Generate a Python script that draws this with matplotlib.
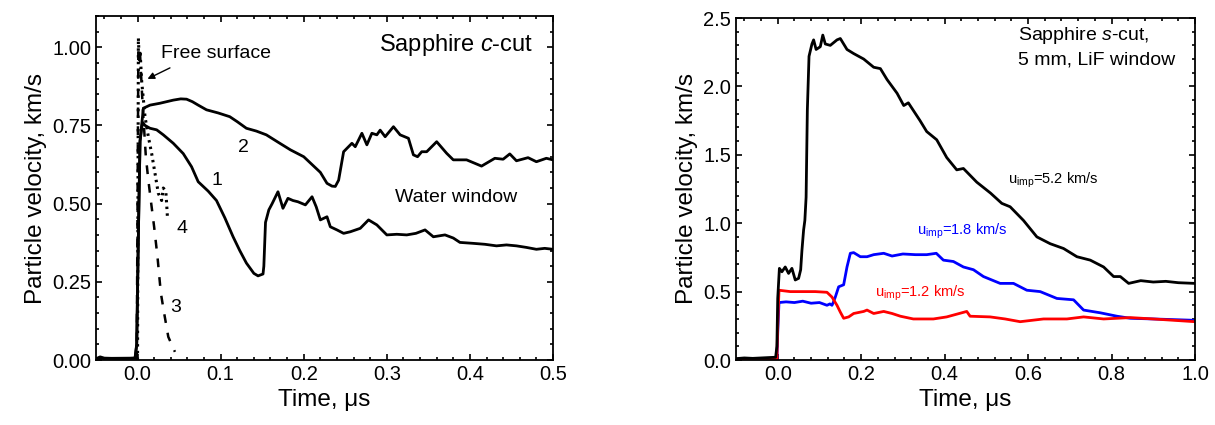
import matplotlib
matplotlib.use("Agg")
import matplotlib.pyplot as plt
from matplotlib.ticker import MultipleLocator

plt.rcParams['font.family'] = ['Liberation Sans', 'DejaVu Sans']
plt.rcParams['mathtext.fontset'] = 'custom'
plt.rcParams['mathtext.rm'] = 'Liberation Sans'
plt.rcParams['mathtext.it'] = 'Liberation Sans:italic'

# ---- left panel: sapphire c-cut, water window ----
t1 = [-0.05, -0.045, -0.04, -0.03, -0.02, -0.01, -0.003, -0.001, 0.001, 0.003, 0.006, 0.009,
      0.015, 0.023, 0.031, 0.043, 0.055, 0.065, 0.073, 0.085, 0.095, 0.105, 0.115, 0.123,
      0.131, 0.14, 0.145, 0.151, 0.152, 0.154, 0.158, 0.162, 0.169, 0.175, 0.181, 0.187,
      0.193, 0.202, 0.21, 0.215, 0.22, 0.228, 0.232, 0.24, 0.248, 0.256, 0.268, 0.278,
      0.288, 0.30, 0.312, 0.324, 0.335, 0.346, 0.356, 0.37, 0.38, 0.388, 0.404, 0.418,
      0.432, 0.444, 0.456, 0.468, 0.48, 0.49, 0.50]
v1 = [0.004, 0.01, 0.006, 0.005, 0.004, 0.005, 0.006, 0.05, 0.40, 0.70, 0.76, 0.75,
      0.741, 0.736, 0.72, 0.693, 0.66, 0.618, 0.57, 0.54, 0.51, 0.455, 0.394, 0.35,
      0.31, 0.277, 0.269, 0.275, 0.30, 0.44, 0.48, 0.50, 0.538, 0.485, 0.517, 0.51,
      0.506, 0.496, 0.522, 0.49, 0.448, 0.458, 0.426, 0.416, 0.405, 0.41, 0.421, 0.448,
      0.432, 0.40, 0.402, 0.40, 0.405, 0.416, 0.394, 0.40, 0.39, 0.376, 0.373, 0.37,
      0.365, 0.368, 0.365, 0.36, 0.354, 0.357, 0.354]

t2 = [-0.05, -0.003, -0.001, 0.001, 0.003, 0.007, 0.015, 0.027, 0.043, 0.052, 0.059, 0.066,
      0.073, 0.083, 0.097, 0.111, 0.12, 0.131, 0.143, 0.155, 0.17, 0.184, 0.20, 0.21,
      0.22, 0.228, 0.234, 0.238, 0.242, 0.248, 0.258, 0.262, 0.27, 0.276, 0.282, 0.288,
      0.292, 0.298, 0.308, 0.316, 0.326, 0.332, 0.337, 0.342, 0.348, 0.36, 0.372, 0.38,
      0.396, 0.414, 0.43, 0.44, 0.448, 0.456, 0.47, 0.48, 0.492, 0.50]
v2 = [0.005, 0.006, 0.05, 0.40, 0.70, 0.805, 0.815, 0.821, 0.831, 0.835, 0.834, 0.826,
      0.815, 0.80, 0.79, 0.778, 0.762, 0.741, 0.732, 0.72, 0.695, 0.672, 0.65, 0.625,
      0.60, 0.565, 0.556, 0.555, 0.575, 0.666, 0.693, 0.682, 0.725, 0.688, 0.725, 0.72,
      0.735, 0.714, 0.746, 0.72, 0.709, 0.656, 0.65, 0.666, 0.666, 0.698, 0.661, 0.64,
      0.64, 0.62, 0.645, 0.642, 0.659, 0.637, 0.647, 0.634, 0.645, 0.64]

t3 = [-0.001, 0.001, 0.003, 0.006, 0.010, 0.013, 0.016, 0.020, 0.024, 0.028, 0.032, 0.037, 0.045]
v3 = [0.0, 1.0, 0.98, 0.82, 0.65, 0.575, 0.51, 0.425, 0.33, 0.215, 0.15, 0.074, 0.026]

t4 = [0.0, 0.001, 0.002, 0.003, 0.005, 0.009, 0.013, 0.017, 0.021, 0.025, 0.029, 0.031,
      0.034, 0.035, 0.036]
v4 = [0.0, 1.03, 0.96, 0.99, 0.89, 0.778, 0.714, 0.66, 0.597, 0.533, 0.51, 0.55,
      0.54, 0.50, 0.455]

# ---- right panel: sapphire s-cut, LiF window ----
tb = [-0.1, -0.08, -0.06, -0.04, -0.02, -0.005, -0.002, 0.0, 0.004, 0.01, 0.018, 0.026,
      0.034, 0.042, 0.05, 0.055, 0.058, 0.062, 0.065, 0.068, 0.071, 0.075, 0.082, 0.086,
      0.092, 0.102, 0.108, 0.114, 0.126, 0.142, 0.15, 0.166, 0.182, 0.206, 0.23, 0.246,
      0.262, 0.286, 0.302, 0.313, 0.341, 0.357, 0.381, 0.405, 0.429, 0.445, 0.477, 0.51,
      0.537, 0.557, 0.589, 0.621, 0.653, 0.685, 0.717, 0.749, 0.781, 0.805, 0.821, 0.841,
      0.87, 0.9, 0.93, 0.96, 1.0]
vb = [0.01, 0.015, 0.012, 0.015, 0.018, 0.02, 0.1, 0.45, 0.67, 0.645, 0.68, 0.633,
      0.67, 0.585, 0.597, 0.66, 0.80, 0.95, 1.02, 1.19, 1.83, 2.22, 2.31, 2.34,
      2.27, 2.29, 2.375, 2.31, 2.30, 2.34, 2.35, 2.27, 2.24, 2.20, 2.14, 2.13,
      2.05, 1.95, 1.86, 1.88, 1.75, 1.67, 1.61, 1.48, 1.39, 1.40, 1.30, 1.22,
      1.145, 1.12, 1.02, 0.90, 0.85, 0.815, 0.755, 0.73, 0.68, 0.61, 0.61, 0.56,
      0.58, 0.57, 0.575, 0.565, 0.56]

tbl = [-0.1, -0.002, 0.0, 0.003, 0.02, 0.04, 0.06, 0.08, 0.1, 0.118, 0.125, 0.13, 0.133,
       0.138, 0.146, 0.158, 0.166, 0.174, 0.182, 0.19, 0.198, 0.214, 0.23, 0.254, 0.274,
       0.30, 0.33, 0.357, 0.38, 0.397, 0.421, 0.445, 0.469, 0.493, 0.533, 0.565, 0.597,
       0.629, 0.669, 0.709, 0.733, 0.773, 0.813, 0.845, 0.9, 0.95, 1.0]
vbl = [0.0, 0.0, 0.2, 0.42, 0.425, 0.42, 0.43, 0.415, 0.42, 0.40, 0.41, 0.40, 0.42,
       0.46, 0.535, 0.55, 0.68, 0.78, 0.785, 0.77, 0.755, 0.755, 0.77, 0.78, 0.76,
       0.775, 0.77, 0.77, 0.78, 0.73, 0.72, 0.68, 0.66, 0.61, 0.56, 0.56, 0.51,
       0.50, 0.45, 0.44, 0.365, 0.345, 0.32, 0.305, 0.30, 0.295, 0.29]

tr = [-0.1, -0.06, -0.02, -0.002, 0.0, 0.003, 0.03, 0.06, 0.09, 0.118, 0.13, 0.142, 0.15,
      0.158, 0.17, 0.182, 0.206, 0.214, 0.23, 0.254, 0.274, 0.294, 0.325, 0.373, 0.405,
      0.453, 0.461, 0.509, 0.545, 0.581, 0.637, 0.693, 0.733, 0.781, 0.845, 0.9, 0.95, 1.0]
vr = [0.005, 0.008, 0.006, 0.008, 0.25, 0.51, 0.50, 0.50, 0.50, 0.495, 0.46, 0.40, 0.35,
      0.305, 0.315, 0.34, 0.355, 0.365, 0.34, 0.355, 0.34, 0.32, 0.30, 0.30, 0.315,
      0.355, 0.32, 0.315, 0.30, 0.28, 0.30, 0.30, 0.315, 0.30, 0.31, 0.30, 0.29, 0.28]

fig = plt.figure(figsize=(12.15, 4.25), dpi=100)
ax1 = fig.add_axes([96/1215, 1 - 360/425, (553-96)/1215, (360-16)/425])
ax2 = fig.add_axes([736/1215, 1 - 360/425, (1195-736)/1215, (360-18)/425])

ax1.plot(t4, v4, color="black", lw=2.2, linestyle=(0, (0.8, 1.4)))
ax1.plot(t3, v3, color="black", lw=1.8, linestyle=(0, (3.5, 4)))
ax1.plot(t1, v1, color="black", lw=2)
ax1.plot(t2, v2, color="black", lw=2)

ax1.set_xlim(-0.05, 0.5)
ax1.set_ylim(0, 1.1)
ax1.xaxis.set_major_locator(MultipleLocator(0.1))
ax1.xaxis.set_minor_locator(MultipleLocator(0.02))
ax1.yaxis.set_major_locator(MultipleLocator(0.25))
ax1.yaxis.set_minor_locator(MultipleLocator(0.05))
ax1.xaxis.set_major_formatter(plt.FuncFormatter(lambda x, p: f"{x:.1f}"))
ax1.yaxis.set_major_formatter(plt.FuncFormatter(lambda y, p: f"{y:.2f}"))
ax1.set_xlabel("Time, μs", fontsize=17.5)
ax1.set_ylabel("Particle velocity, km/s", fontsize=17.5)

ax1.text(0.476, 1.006, "Sapphire $c$-cut", fontsize=17, ha="right", va="center")
ax1.text(0.028, 0.98, "Free surface", fontsize=14, ha="left", va="center")
ax1.annotate("", xy=(0.009, 0.895), xytext=(0.042, 0.938),
             arrowprops=dict(arrowstyle="-|>", color="black", lw=1, mutation_scale=10))
ax1.text(0.383, 0.52, "Water window", fontsize=14, ha="center", va="center")
ax1.text(0.095, 0.575, "1", fontsize=14, ha="center", va="center")
ax1.text(0.127, 0.68, "2", fontsize=14, ha="center", va="center")
ax1.text(0.046, 0.167, "3", fontsize=14, ha="center", va="center")
ax1.text(0.053, 0.42, "4", fontsize=14, ha="center", va="center")

ax2.plot(tbl, vbl, color="#0000ff", lw=2)
ax2.plot(tr, vr, color="#ff0000", lw=2)
ax2.plot(tb, vb, color="black", lw=2)

ax2.set_xlim(-0.1, 1.0)
ax2.set_ylim(0, 2.5)
ax2.xaxis.set_major_locator(MultipleLocator(0.2))
ax2.xaxis.set_minor_locator(MultipleLocator(0.04))
ax2.yaxis.set_major_locator(MultipleLocator(0.5))
ax2.yaxis.set_minor_locator(MultipleLocator(0.1))
ax2.xaxis.set_major_formatter(plt.FuncFormatter(lambda x, p: f"{x:.1f}"))
ax2.yaxis.set_major_formatter(plt.FuncFormatter(lambda y, p: f"{y:.1f}"))
ax2.set_xlabel("Time, μs", fontsize=17.5)
ax2.set_ylabel("Particle velocity, km/s", fontsize=17.5)

ax2.text(0.577, 2.45, "Sapphire $s$-cut,\n5 mm, LiF window", fontsize=14,
         ha="left", va="top", linespacing=1.45)
ax2.text(0.553, 1.316, r"u$_{\rm imp}$=5.2 km/s", fontsize=10.5, ha="left", va="center")
ax2.text(0.334, 0.94, r"u$_{\rm imp}$=1.8 km/s", fontsize=10.5, ha="left", va="center",
         color="#0000ff")
ax2.text(0.234, 0.49, r"u$_{\rm imp}$=1.2 km/s", fontsize=10.5, ha="left", va="center",
         color="#ff0000")

for ax in (ax1, ax2):
    for s in ax.spines.values():
        s.set_linewidth(1.3)
    ax.tick_params(which="both", direction="in", top=True, right=True, width=1.2,
                   labelsize=14.5)
    ax.tick_params(which="major", length=4.5)
    ax.tick_params(which="minor", length=2.5)

fig.savefig("out.png", dpi=100)
